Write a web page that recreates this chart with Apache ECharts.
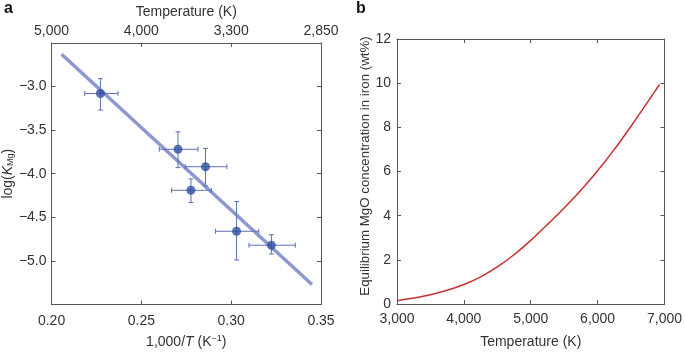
<!DOCTYPE html>
<html>
<head>
<meta charset="utf-8">
<script src="https://cdn.jsdelivr.net/npm/echarts@6/dist/echarts.min.js"></script>
<style>
  html, body { margin: 0; padding: 0; background: #fff; }
  #main { width: 685px; height: 354px; }
</style>
</head>
<body>
<div id="main"></div>
<script>
// panel a: measured points, [1000/T, log K, xlo, xhi, ylo, yhi]
var invT = [0.2272, 0.2704, 0.2857, 0.2776, 0.3030, 0.3224];
var logK = [-3.08, -3.72, -3.92, -4.19, -4.66, -4.82];
var invTLo = [0.2185, 0.2600, 0.2744, 0.2668, 0.2913, 0.3099];
var invTHi = [0.2370, 0.2815, 0.2976, 0.2890, 0.3154, 0.3357];
var logKLo = [-3.27, -3.93, -4.14, -4.33, -4.99, -4.92];
var logKHi = [-2.91, -3.52, -3.71, -4.06, -4.32, -4.70];
// fitted line end points
var fitX = [0.2056, 0.3450];
var fitY = [-2.63, -5.27];
// top axis labels (temperature)
var topTempLabels = ['5,000', '4,000', '3,300', '2,850'];

// panel b: MgO concentration vs temperature
var tempK = [3000, 3250, 3500, 3750, 4000, 4250, 4500, 4750, 5000, 5250, 5500, 5750, 6000, 6250, 6500, 6750, 6925];
var mgoWt = [0.15, 0.27, 0.42, 0.62, 0.88, 1.23, 1.68, 2.23, 2.88, 3.60, 4.35, 5.15, 6.03, 7.00, 8.05, 9.15, 9.94];

var pts = invT.map(function (x, i) {
  return [x, logK[i], invTLo[i], invTHi[i], logKLo[i], logKHi[i]];
});
var curve = tempK.map(function (t, i) { return [t, mgoWt[i]]; });

var font = '"Liberation Sans", Arial, Helvetica, sans-serif';
var txt = '#333';
var axisCol = '#555';

function minus(s) { return s.replace('-', '\u2212'); }
function thousands(v) { return String(v).replace(/\B(?=(\d{3})+(?!\d))/g, ','); }

function frameAxis(extra) {
  var base = {
    axisLine: { show: true, onZero: false, lineStyle: { color: axisCol, width: 1 } },
    axisTick: { show: true, inside: true, length: 4, lineStyle: { color: axisCol } },
    splitLine: { show: false },
    axisLabel: { color: txt, fontFamily: font, fontSize: 14 },
    nameTextStyle: { color: txt, fontFamily: font, fontSize: 14 }
  };
  for (var k in extra) {
    if (typeof extra[k] === 'object' && base[k] && !Array.isArray(extra[k])) {
      base[k] = Object.assign({}, base[k], extra[k]);
    } else {
      base[k] = extra[k];
    }
  }
  return base;
}

var myChart = echarts.init(document.getElementById('main'));
var option = {
  animation: false,
  backgroundColor: '#fff',
  textStyle: { fontFamily: font },
  grid: [
    { left: 51, top: 39, width: 270, height: 268 },
    { left: 397, top: 39, width: 269, height: 268 }
  ],
  graphic: [
    { type: 'text', left: 4, top: 1, style: { text: 'a', font: 'bold 16px ' + font, fill: '#111' } },
    { type: 'text', left: 356, top: 1, style: { text: 'b', font: 'bold 16px ' + font, fill: '#111' } },
    {
      type: 'text', x: 365, y: 166, rotation: Math.PI / 2,
      style: {
        text: 'Equilibrium MgO concentration in iron (wt%)',
        font: '13.3px ' + font, fill: txt, align: 'center', verticalAlign: 'middle'
      }
    }
  ],
  xAxis: [
    frameAxis({
      type: 'value', gridIndex: 0, position: 'bottom', min: 0.2, max: 0.35, interval: 0.05,
      axisLabel: { margin: 10, formatter: function (v) { return v.toFixed(2); } },
      name: '{a|1,000/}{i|T}{a| (K}{s|\u22121}{a|)}', nameLocation: 'middle', nameGap: 30,
      nameTextStyle: {
        rich: {
          a: { fontSize: 14, color: txt, fontFamily: font },
          i: { fontSize: 14, color: txt, fontFamily: font, fontStyle: 'italic' },
          s: { fontSize: 9, color: txt, fontFamily: font, verticalAlign: 'top', padding: [0, 0, 6, 0] }
        }
      }
    }),
    frameAxis({
      type: 'value', gridIndex: 0, position: 'top', min: 0.2, max: 0.35, interval: 0.05,
      axisLabel: { margin: 5, formatter: function (v) { return topTempLabels[Math.round((v - 0.2) / 0.05)]; } },
      name: 'Temperature (K)', nameLocation: 'middle', nameGap: 23
    }),
    frameAxis({
      type: 'value', gridIndex: 1, position: 'bottom', min: 3000, max: 7000, interval: 1000,
      axisLabel: { margin: 8, formatter: function (v) { return thousands(v); } },
      name: 'Temperature (K)', nameLocation: 'middle', nameGap: 31
    }),
    frameAxis({
      type: 'value', gridIndex: 1, position: 'top', min: 3000, max: 7000, interval: 1000,
      axisLabel: { show: false }
    })
  ],
  yAxis: [
    frameAxis({
      type: 'value', gridIndex: 0, position: 'left', min: -5.5, max: -2.5, interval: 0.5,
      axisLabel: { margin: 5, formatter: function (v) {
        if (Math.abs(v + 5.5) < 1e-6 || Math.abs(v + 2.5) < 1e-6) return '';
        return minus(v.toFixed(1));
      } },
      name: '{a|log(}{i|K}{s|Mg}{a|)}', nameLocation: 'middle', nameGap: 34, nameRotate: 90,
      nameTextStyle: {
        rich: {
          a: { fontSize: 14, color: txt, fontFamily: font },
          i: { fontSize: 14, color: txt, fontFamily: font, fontStyle: 'italic' },
          s: { fontSize: 9, color: txt, fontFamily: font, verticalAlign: 'bottom', padding: [5, 0, 0, 0] }
        }
      }
    }),
    frameAxis({
      type: 'value', gridIndex: 0, position: 'right', min: -5.5, max: -2.5, interval: 0.5,
      axisLabel: { show: false }
    }),
    frameAxis({
      type: 'value', gridIndex: 1, position: 'left', min: 0, max: 12, interval: 2,
      axisLabel: { margin: 6 }
    }),
    frameAxis({
      type: 'value', gridIndex: 1, position: 'right', min: 0, max: 12, interval: 2,
      axisLabel: { show: false }
    })
  ],
  series: [
    {
      type: 'line', xAxisIndex: 0, yAxisIndex: 0, showSymbol: false, silent: true,
      data: fitX.map(function (x, i) { return [x, fitY[i]]; }),
      lineStyle: { color: '#8c98cf', width: 3.5 }, z: 2
    },
    {
      type: 'custom', xAxisIndex: 0, yAxisIndex: 0, data: pts, z: 3,
      encode: { x: 0, y: 1 },
      renderItem: function (params, api) {
        var x = api.value(0), y = api.value(1);
        var l = api.coord([api.value(2), y]), r = api.coord([api.value(3), y]);
        var b = api.coord([x, api.value(4)]), t = api.coord([x, api.value(5)]);
        var cap = 2.5;
        var st = { stroke: '#5a70b8', lineWidth: 1 };
        function seg(x1, y1, x2, y2) { return { type: 'line', shape: { x1: x1, y1: y1, x2: x2, y2: y2 }, style: st }; }
        return {
          type: 'group',
          children: [
            seg(l[0], l[1], r[0], r[1]),
            seg(l[0], l[1] - cap, l[0], l[1] + cap),
            seg(r[0], r[1] - cap, r[0], r[1] + cap),
            seg(b[0], b[1], t[0], t[1]),
            seg(b[0] - cap, b[1], b[0] + cap, b[1]),
            seg(t[0] - cap, t[1], t[0] + cap, t[1])
          ]
        };
      }
    },
    {
      type: 'scatter', xAxisIndex: 0, yAxisIndex: 0, z: 4,
      data: pts.map(function (p) { return [p[0], p[1]]; }),
      symbolSize: 9, itemStyle: { color: '#2e4da3' }
    },
    {
      type: 'line', xAxisIndex: 2, yAxisIndex: 2, showSymbol: false, smooth: 0.3,
      data: curve, lineStyle: { color: '#c8302e', width: 1.5 }
    }
  ]
};
myChart.setOption(option);
</script>
</body>
</html>
